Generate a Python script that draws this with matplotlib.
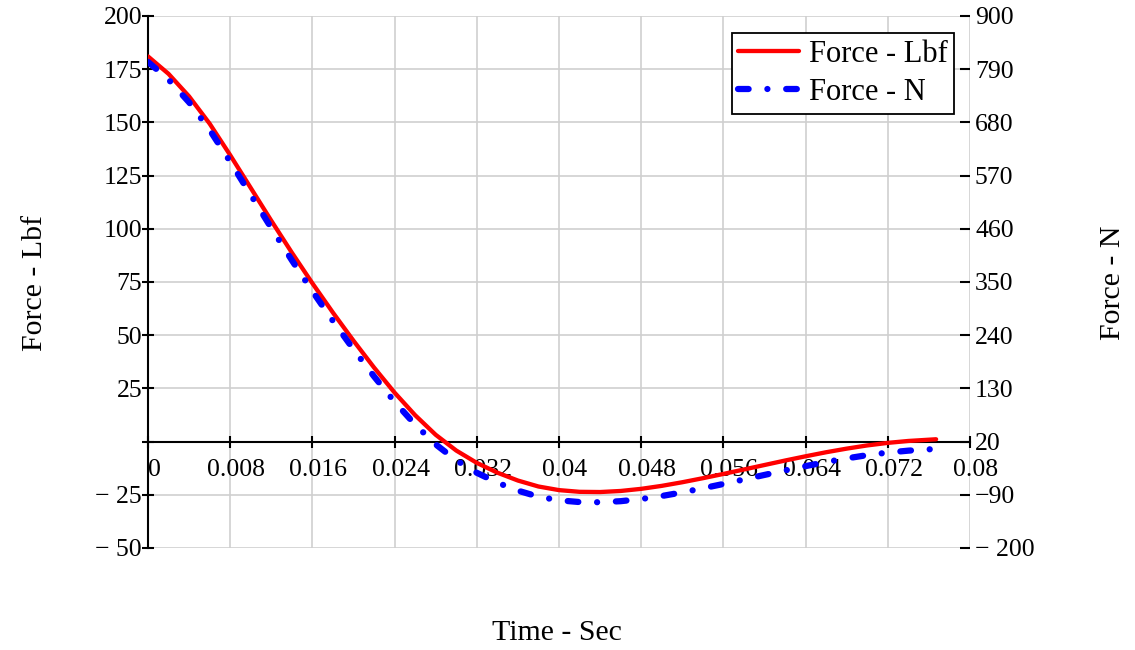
import matplotlib
matplotlib.use("Agg")
import matplotlib.pyplot as plt
import matplotlib.transforms as mtransforms

# ---- data ----
time_s = [0.000, 0.002, 0.004, 0.006, 0.008, 0.010, 0.012, 0.014, 0.016, 0.018,
          0.020, 0.022, 0.024, 0.026, 0.028, 0.030, 0.032, 0.034, 0.036, 0.038,
          0.040, 0.042, 0.044, 0.046, 0.048, 0.050, 0.052, 0.054, 0.056, 0.058,
          0.060, 0.062, 0.064, 0.066, 0.068, 0.070, 0.072, 0.074, 0.0767]
force_lbf = [181.0, 172.8, 162.2, 149.4, 134.6, 119.2, 103.8, 88.8, 74.4, 60.6,
             47.4, 34.8, 23.0, 12.4, 3.2, -4.2, -10.0, -14.6, -18.3, -21.1,
             -22.8, -23.6, -23.7, -23.2, -22.2, -20.8, -19.1, -17.2, -15.2, -13.1,
             -11.0, -8.9, -6.9, -5.0, -3.3, -1.8, -0.6, 0.3, 1.1]
force_n = [805.1, 768.6, 721.5, 664.5, 598.7, 530.2, 461.7, 395.0, 330.9, 269.5,
           210.8, 154.8, 102.3, 55.2, 14.2, -18.7, -44.5, -64.9, -81.4, -93.9,
           -101.4, -105.0, -105.4, -103.2, -98.7, -92.5, -85.0, -76.5, -67.6, -58.3,
           -48.9, -39.6, -30.7, -22.2, -14.7, -8.0, -2.7, 1.3, 4.9]

x_ticks = [0, 0.008, 0.016, 0.024, 0.032, 0.04, 0.048, 0.056, 0.064, 0.072, 0.08]
x_labels = ["0", "0.008", "0.016", "0.024", "0.032", "0.04", "0.048", "0.056",
            "0.064", "0.072", "0.08"]
left_ticks = [-50, -25, 0, 25, 50, 75, 100, 125, 150, 175, 200]
left_labels = ["\u2212 50", "\u2212 25", "", "25", "50", "75", "100", "125",
               "150", "175", "200"]
right_ticks = [-200, -90, 20, 130, 240, 350, 460, 570, 680, 790, 900]
right_labels = ["\u2212 200", "\u221290", "20", "130", "240", "350", "460",
                "570", "680", "790", "900"]

plt.rcParams['font.family'] = ['Liberation Serif', 'DejaVu Serif']

W, H = 1135, 650
fig = plt.figure(figsize=(W / 100, H / 100), dpi=100)
L, R, T, B = 148, 970, 16, 548
ax = fig.add_axes([L / W, 1 - B / H, (R - L) / W, (B - T) / H])
ax2 = ax.twinx()

ax.set_xlim(0, 0.08)
ax.set_ylim(-50, 200)
ax2.set_ylim(-200, 900)

grid_c = '#cfcfcf'
ax.set_xticks(x_ticks)
ax.set_xticklabels(x_labels)
ax.set_yticks(left_ticks)
ax.set_yticklabels(left_labels)
ax.grid(True, color=grid_c, linewidth=1.2)
ax.set_axisbelow(True)

for s in ['top', 'right']:
    ax.spines[s].set_visible(False)
ax.spines['left'].set_linewidth(1.5)
ax.spines['bottom'].set_position(('data', 0))
ax.spines['bottom'].set_linewidth(1.5)
for s in ax2.spines.values():
    s.set_visible(False)

ax.tick_params(axis='x', direction='inout', length=8.6, width=1.5, pad=8,
               labelsize=18.5, color='black')
ax.tick_params(axis='y', direction='inout', length=8.6, width=1.5, pad=0,
               labelsize=18.5)
ax2.set_yticks(right_ticks)
ax2.set_yticklabels(right_labels)
ax2.tick_params(axis='y', direction='in', length=7.2, width=1.5, pad=3.6,
                labelsize=18.5)

offset = mtransforms.ScaledTranslation(6 / 100, 0, fig.dpi_scale_trans)
for lab in ax.get_xticklabels():
    lab.set_transform(lab.get_transform() + offset)

l1, = ax.plot(time_s, force_lbf, color='#ff0000', linewidth=3.1,
              solid_capstyle='round', solid_joinstyle='round', zorder=3,
              label='Force - Lbf')
l2, = ax2.plot(time_s, force_n, color='#0000ff', linewidth=4.5,
               dash_capstyle='round', dash_joinstyle='round', zorder=3,
               label='Force - N')
l2.set_dashes([1.7, 3.0, 0.01, 3.0])

leg = ax2.legend(handles=[l1, l2], loc='upper right',
                 bbox_to_anchor=((954 - L) / (R - L), (B - 33) / (B - T)),
                 borderaxespad=0, fontsize=22, handlelength=2.0,
                 handletextpad=0.3, borderpad=0.22, labelspacing=0.3,
                 fancybox=False, framealpha=1, edgecolor='black')
leg.get_frame().set_linewidth(1.3)

fig.text(35 / W, 1 - 283 / H, 'Force - Lbf', rotation=90, ha='center',
         va='center', fontsize=21.5)
fig.text(1113 / W, 1 - 283 / H, 'Force - N', rotation=90, ha='center',
         va='center', fontsize=21.5)
fig.text(557 / W, 1 - 633 / H, 'Time - Sec', ha='center', va='center',
         fontsize=21.5)

fig.savefig('out.png', dpi=100)
